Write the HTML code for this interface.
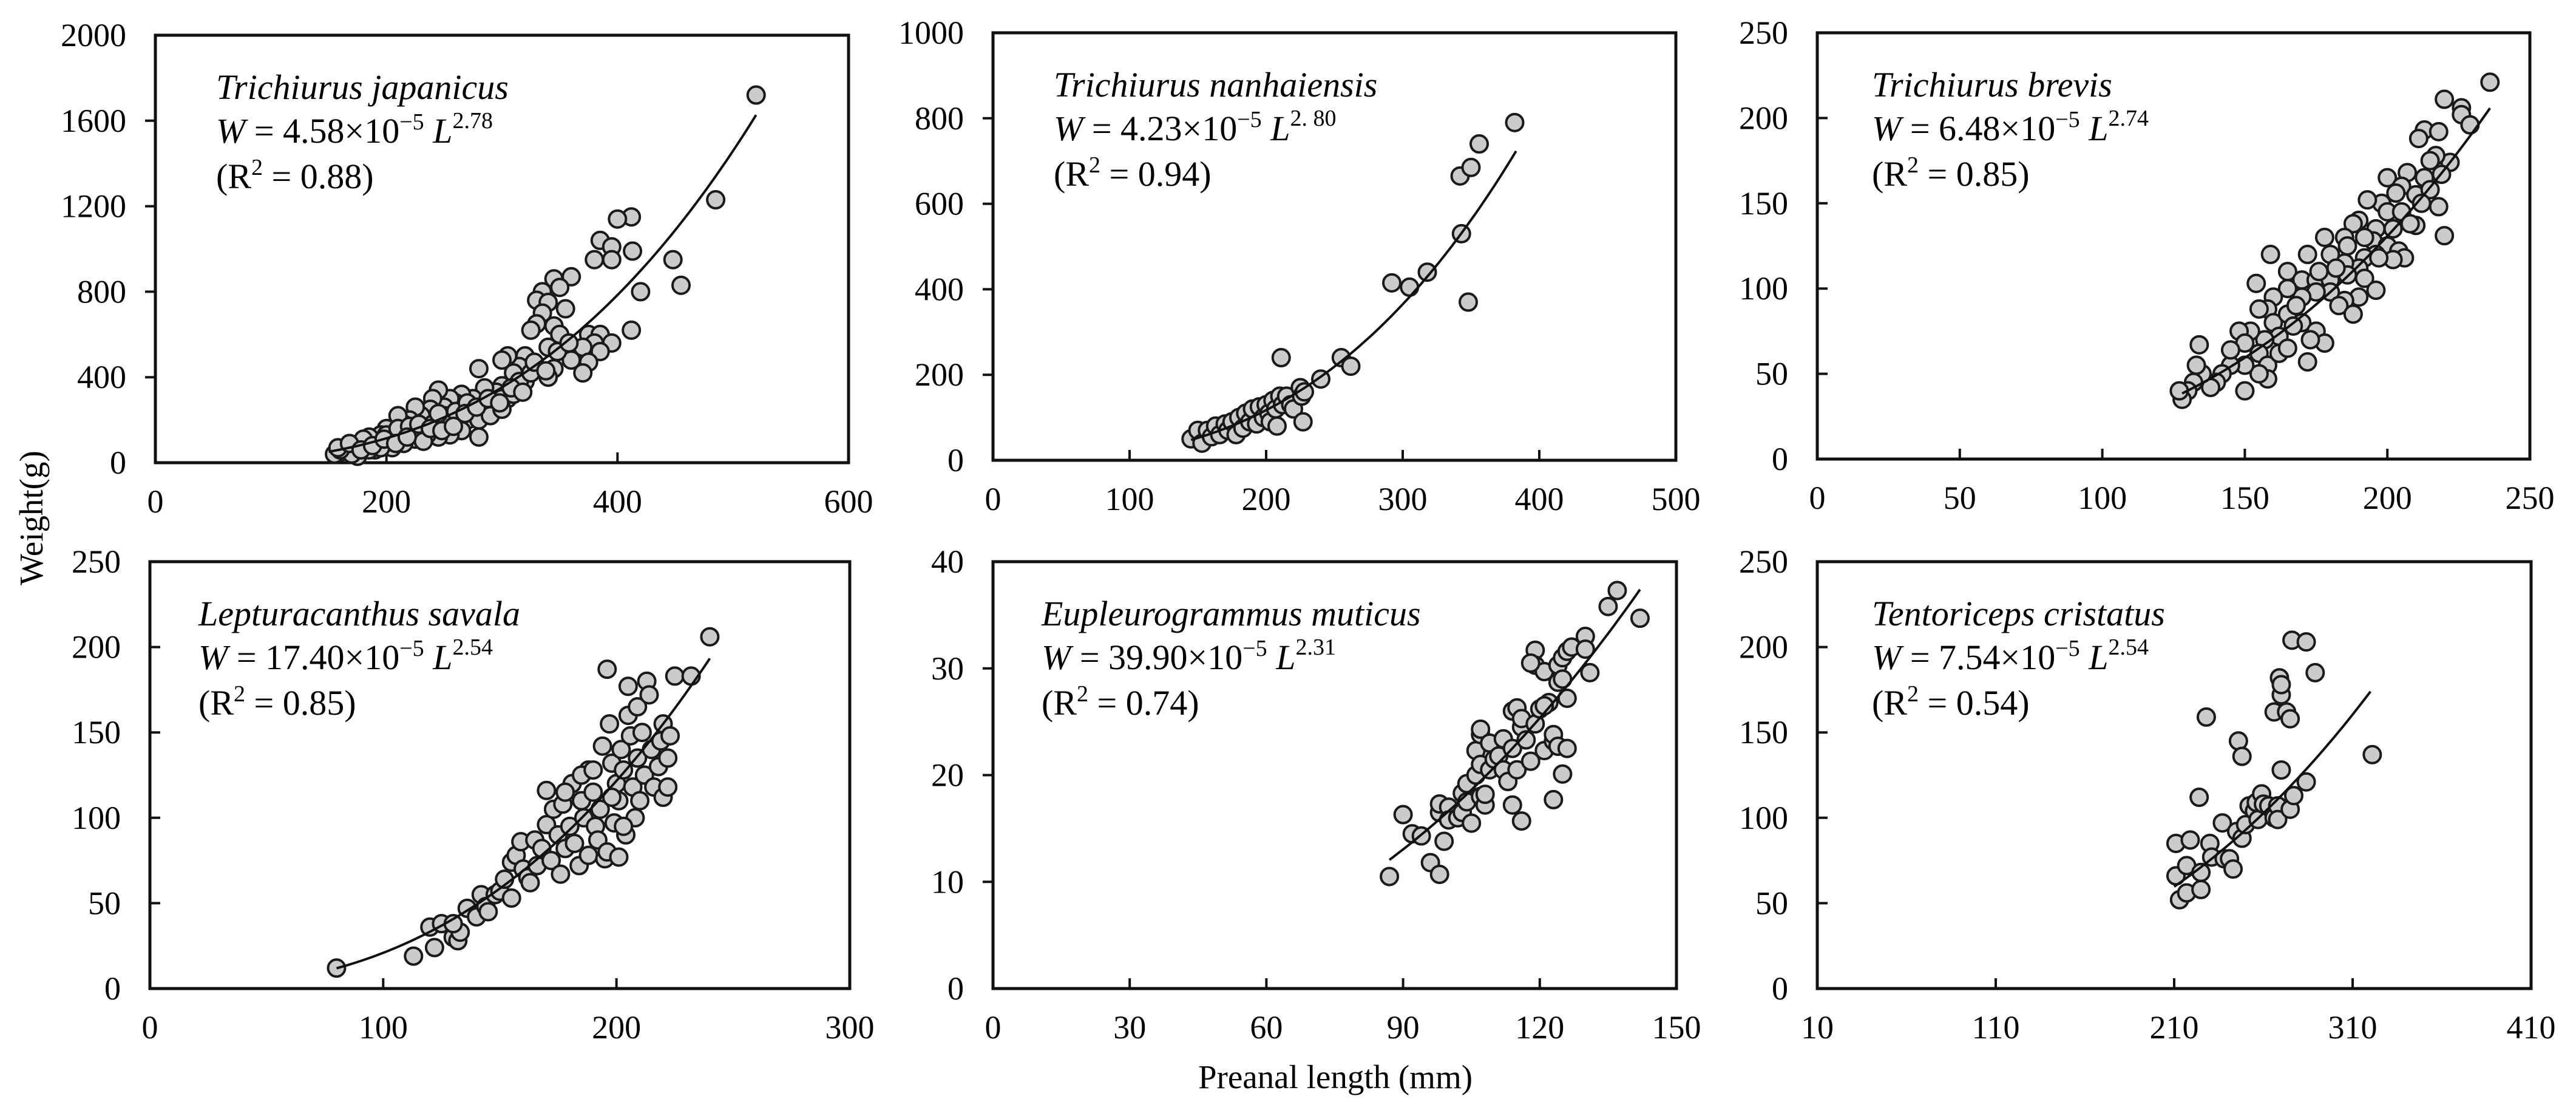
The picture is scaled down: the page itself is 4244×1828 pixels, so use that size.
<!DOCTYPE html>
<html><head><meta charset="utf-8">
<style>
html,body{margin:0;padding:0;background:#fff;}
svg{display:block;font-family:"Liberation Serif",serif;}
</style></head>
<body>
<svg id="fig" width="4244" height="1828" viewBox="0 0 4244 1828" xmlns="http://www.w3.org/2000/svg">
<rect x="0" y="0" width="4244" height="1828" fill="#fff"/>
<text x="0" y="0" transform="translate(70,853) rotate(-90)" text-anchor="middle" font-size="55">Weight(g)</text>
<text x="2200" y="1792" text-anchor="middle" font-size="55">Preanal length (mm)</text>
</svg>
<script>
// ---- data ----
const speciesNames = ["Trichiurus japanicus","Trichiurus nanhaiensis","Trichiurus brevis","Lepturacanthus savala","Eupleurogrammus muticus","Tentoriceps cristatus"];
const coefA = ["4.58","4.23","6.48","17.40","39.90","7.54"];
const coefB = ["2.78","2. 80","2.74","2.54","2.31","2.54"];
const fitA = [4.58e-5,4.23e-5,6.48e-5,17.40e-5,39.90e-5,7.54e-5];
const fitB = [2.78,2.80,2.74,2.54,2.31,2.54];
const r2Labels = ["0.88","0.94","0.85","0.85","0.74","0.54"];
const fitRange = [[150,520],[145,383],[128,236],[80,240],[87,142],[210,320]];
const xTicks = [[0,200,400,600],[0,100,200,300,400,500],[0,50,100,150,200,250],[0,100,200,300],[0,30,60,90,120,150],[10,110,210,310,410]];
const yTicks = [[0,400,800,1200,1600,2000],[0,200,400,600,800,1000],[0,50,100,150,200,250],[0,50,100,150,200,250],[0,10,20,30,40],[0,50,100,150,200,250]];

const ptsJaponicus = [[520,1720],[485,1230],[412,1150],[400,1140],[385,1040],[395,1010],[413,990],[380,950],[395,950],[448,950],[455,830],[420,800],[412,620],[345,860],[360,870],[350,820],[335,800],[330,760],[340,750],[355,720],[335,700],[330,650],[325,620],[345,640],[350,600],[375,600],[385,600],[395,560],[380,560],[370,540],[385,520],[375,470],[370,420],[360,480],[340,540],[345,440],[340,400],[320,500],[315,450],[305,500],[300,480],[310,420],[320,380],[300,360],[305,300],[295,330],[290,280],[280,440],[285,350],[275,300],[270,250],[265,320],[260,280],[255,300],[250,260],[245,340],[240,300],[238,250],[235,200],[230,220],[225,260],[220,200],[215,180],[210,220],[205,150],[200,160],[195,130],[190,100],[185,120],[180,90],[175,80],[170,70],[165,60],[160,50],[155,40],[175,30],[190,60],[200,100],[210,120],[220,140],[230,150],[240,180],[250,180],[260,200],[270,200],[280,230],[290,260],[300,300],[265,150],[255,130],[245,120],[235,130],[225,110],[215,90],[205,70],[195,70],[185,60],[170,40],[160,60],[180,110],[200,130],[210,160],[220,170],[250,220],[260,240],[270,280],[280,200],[290,220],[300,250],[310,320],[315,380],[325,420],[280,120],[245,230],[232,100],[158,70],[168,90],[178,60],[188,80],[198,110],[208,90],[218,120],[228,180],[238,160],[248,150],[258,170],[268,230],[278,260],[288,300],[298,280],[308,350],[318,330],[328,470],[338,430],[348,520],[358,560]];
const ptsNanhai = [[145,50],[150,70],[153,40],[157,70],[160,55],[163,80],[166,60],[170,85],[172,70],[175,90],[178,60],[180,100],[183,75],[185,110],[188,90],[190,120],[193,85],[195,125],[198,100],[200,130],[202,110],[203,90],[205,140],[207,120],[208,80],[210,150],[211,240],[212,130],[215,150],[218,130],[220,120],[225,170],[226,150],[227,90],[228,160],[240,190],[255,240],[262,220],[292,415],[305,405],[318,440],[342,665],[343,530],[348,370],[350,685],[356,740],[382,790]];
const ptsBrevis = [[236,221],[220,211],[226,206],[226,202],[229,196],[222,174],[213,193],[218,192],[211,188],[217,178],[215,175],[219,167],[218,148],[220,131],[210,137],[200,165],[207,168],[213,165],[205,160],[203,156],[210,155],[215,158],[212,150],[198,150],[193,152],[200,145],[205,145],[208,138],[202,135],[196,135],[190,140],[188,138],[185,130],[195,128],[200,125],[204,122],[206,118],[202,117],[196,120],[192,118],[190,112],[185,115],[180,120],[178,130],[172,120],[165,110],[170,105],[175,105],[180,105],[186,108],[192,106],[196,99],[190,95],[185,93],[180,98],[175,98],[170,95],[165,100],[160,95],[158,88],[155,88],[160,80],[165,85],[170,80],[175,75],[178,68],[173,70],[167,78],[162,72],[157,70],[152,75],[148,75],[150,68],[155,62],[158,55],[162,62],[172,57],[165,65],[158,47],[155,50],[150,55],[145,55],[145,64],[142,50],[140,45],[138,42],[135,50],[133,55],[134,67],[132,45],[130,40],[128,35],[127,40],[150,40],[159,120],[154,103],[183,90],[188,85],[168,90],[176,110],[182,112],[186,125],[192,130],[197,118]];
const ptsSavala = [[80,12],[113,19],[122,24],[120,36],[125,38],[130,30],[132,28],[133,33],[130,38],[136,47],[140,42],[142,55],[144,48],[145,45],[148,55],[150,57],[152,64],[155,53],[155,74],[157,78],[159,86],[160,70],[162,65],[163,62],[165,87],[166,72],[168,82],[170,96],[170,116],[172,75],[173,105],[175,90],[176,67],[177,108],[178,82],[180,95],[181,120],[182,85],[184,72],[185,110],[186,100],[188,78],[188,128],[190,115],[191,95],[192,87],[193,105],[194,142],[195,76],[196,187],[196,80],[197,155],[198,132],[199,97],[200,120],[201,110],[201,77],[202,140],[203,128],[204,90],[205,160],[205,177],[206,148],[207,118],[208,100],[209,135],[209,165],[210,110],[211,150],[212,125],[213,180],[214,172],[215,140],[216,118],[218,130],[219,145],[220,112],[220,155],[222,135],[223,148],[222,118],[225,183],[232,183],[240,206],[185,125],[178,115],[198,112],[203,95],[190,128]];
const ptsMuticus = [[87,10.5],[90,16.3],[92,14.5],[94,14.3],[96,11.8],[98,10.7],[98,16.5],[98,17.3],[99,13.8],[100,17],[100,15.8],[102,16],[103,16.5],[103,18.3],[104,19.2],[104,17.5],[105,15.5],[106,20],[106,22.3],[107,23.8],[107,24.3],[107,18],[107,21],[108,17.2],[108,18.2],[109,20.5],[109,23],[110,21.5],[111,21.8],[112,20.5],[112,23.4],[113,19.4],[114,22.5],[114,17.2],[114,26],[115,20.5],[115,26.3],[116,15.7],[116,24.5],[116,25.3],[117,23.3],[118,21.3],[119,24.8],[119,31.7],[119,30.3],[120,26.2],[121,29.7],[121,22.3],[122,26.8],[123,23.2],[123,17.7],[123,23.8],[124,30.3],[124,28.7],[124,22.7],[125,20.1],[125,29],[125,31],[126,27.2],[126,22.5],[126,31.6],[127,32],[130,33],[130,31.8],[131,29.6],[135,35.8],[137,37.3],[142,34.7],[118,30.5],[121,26.5]];
const ptsCristatus = [[211,85],[211,66],[213,52],[217,72],[217,56],[219,87],[224,112],[225,68],[225,58],[228,159],[230,85],[231,77],[237,97],[238,76],[241,76],[243,70],[245,92],[246,145],[248,136],[248,88],[250,96],[252,107],[255,104],[256,109],[257,99],[259,114],[260,108],[263,107],[266,162],[266,100],[268,107],[268,99],[269,182],[270,172],[270,178],[270,128],[273,162],[275,158],[275,105],[276,204],[277,113],[284,203],[284,121],[289,185],[321,137]];
const allPoints = [ptsJaponicus,ptsNanhai,ptsBrevis,ptsSavala,ptsMuticus,ptsCristatus];

// ---- layout ----
const frames = [
  {l:256,r:1398,t:58,b:762,tickIn:false},
  {l:1636,r:2761,t:54,b:758,tickIn:false},
  {l:2994,r:4168,t:54,b:756,tickIn:true},
  {l:247,r:1400,t:925,b:1628,tickIn:true},
  {l:1636,r:2762,t:925,b:1628,tickIn:false},
  {l:2994,r:4170,t:925,b:1628,tickIn:true}
];
const NS="http://www.w3.org/2000/svg";
const svg=document.getElementById('fig');
function mk(tag,attrs,parent){const e=document.createElementNS(NS,tag);for(const k in attrs)e.setAttribute(k,attrs[k]);(parent||svg).appendChild(e);return e;}

frames.forEach((f,i)=>{
  const xt=xTicks[i], yt=yTicks[i];
  const x0=xt[0], x1=xt[xt.length-1], y0=yt[0], y1=yt[yt.length-1];
  const sx=v=>f.l+(v-x0)/(x1-x0)*(f.r-f.l);
  const sy=v=>f.b-(v-y0)/(y1-y0)*(f.b-f.t);
  const g=mk('g',{});
  
  
  const fr=mk('rect',{x:f.l,y:f.t,width:f.r-f.l,height:f.b-f.t,fill:'none',stroke:'#111','stroke-width':5},g);
  
  
  xt.forEach((v,k)=>{
    const x=sx(v);
    if(k>0&&k<xt.length-1){
      const tk=mk('line',{x1:x,x2:x,y1:f.b,y2:f.b-17,stroke:'#111','stroke-width':4},g);
      
      
    }
    const tl=mk('text',{x:x,y:f.b+82,'text-anchor':'middle','font-size':54},g);
    tl.textContent=v;
    
    
  });
  yt.forEach((v,k)=>{
    const y=sy(v);
    if(k>0&&k<yt.length-1){
      const tk=mk('line',{x1:f.l,x2:f.tickIn?f.l+17:f.l-17,y1:y,y2:y,stroke:'#111','stroke-width':4},g);
      
      
    }
    const tl=mk('text',{x:f.l-48,y:y+18,'text-anchor':'end','font-size':54},g);
    tl.textContent=v;
    
    
  });
  allPoints[i].forEach(p=>{
    const c=mk('circle',{cx:sx(p[0]),cy:sy(p[1]),r:14,fill:'#cbcbcb',stroke:'#1a1a1a','stroke-width':4},g);
    
    
  });
  const rg=fitRange[i];let d='';
  for(let s=0;s<=60;s++){const L=rg[0]+(rg[1]-rg[0])*s/60;const W=fitA[i]*Math.pow(L,fitB[i]);d+=(s?'L':'M')+sx(L).toFixed(1)+' '+sy(W).toFixed(1);}
  const cv=mk('path',{d:d,fill:'none',stroke:'#111','stroke-width':4},g);
  
  
  const ax=f.l+100-(i===3||i===4?20:0)-(i===2||i===5?10:0);
  const t1=mk('text',{x:ax,y:f.t+105,'font-size':58,'font-style':'italic'},g);
  t1.textContent=speciesNames[i];
  
  
  const t2=mk('text',{x:ax,y:f.t+177,'font-size':58},g);
  
  
  t2.innerHTML='<tspan font-style="italic">W</tspan> = '+coefA[i]+'×10<tspan dy="-22" font-size="38">−5</tspan><tspan dy="22"> </tspan><tspan font-style="italic">L</tspan><tspan dy="-24" font-size="38">'+coefB[i]+'</tspan>';
  const t3=mk('text',{x:ax,y:f.t+252,'font-size':58},g);
  
  
  t3.innerHTML='(R<tspan dy="-22" font-size="38">2</tspan><tspan dy="22"> = '+r2Labels[i]+')</tspan>';
});
</script>
</body></html>
